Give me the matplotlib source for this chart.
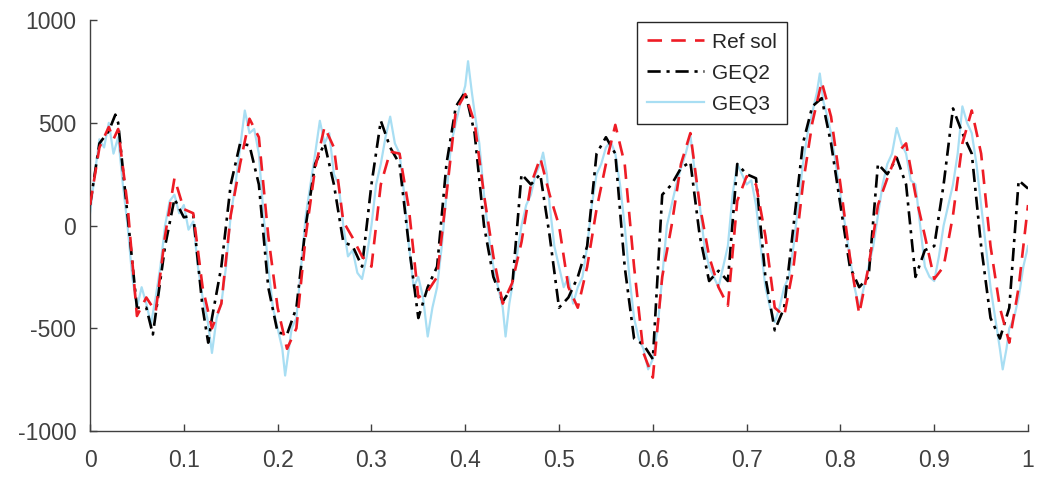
import matplotlib
matplotlib.use("Agg")
import matplotlib.pyplot as plt

plt.rcParams['font.family'] = ['Liberation Sans', 'DejaVu Sans']

ref_x = [0.00,0.01,0.02,0.025,0.03,0.04,0.05,0.06,0.07,0.08,0.09,0.10,0.11,0.12,0.13,0.14,0.15,0.16,0.17,0.18,0.19,
         0.20,0.21,0.22,0.23,0.24,0.25,0.26,0.27,0.28,0.29,0.30,0.31,0.32,0.33,0.34,0.35,0.36,0.37,0.38,0.39,
         0.40,0.41,0.42,0.43,0.44,0.45,0.46,0.47,0.48,0.49,0.50,0.51,0.52,0.53,0.54,0.55,0.56,0.57,0.58,0.59,
         0.60,0.61,0.62,0.63,0.64,0.65,0.66,0.67,0.68,0.69,0.70,0.71,0.72,0.73,0.74,0.75,0.76,0.77,0.78,0.79,
         0.80,0.81,0.82,0.83,0.84,0.85,0.86,0.87,0.88,0.89,0.90,0.91,0.92,0.93,0.94,0.95,0.96,0.97,0.98,0.99,1.00]
ref_y = [100,380,480,420,470,100,-440,-350,-420,-50,230,80,60,-300,-500,-380,50,300,520,430,-50,
         -400,-600,-500,-50,280,480,380,20,-60,-150,-200,200,360,350,80,-350,-320,-250,150,560,
         640,500,150,-150,-380,-280,-80,200,330,150,0,-300,-400,-200,80,300,490,300,-200,-620,
         -740,-250,0,300,450,100,-150,-300,-390,120,240,200,-50,-400,-440,-200,200,500,700,530,
         200,-150,-430,-200,100,230,350,400,150,-50,-260,-200,50,400,560,350,-100,-400,-570,-300,100]

geq2_x = [0.00,0.01,0.02,0.027,0.03,0.04,0.05,0.06,0.067,0.08,0.09,0.10,0.11,0.12,0.126,0.13,0.14,0.15,0.16,0.17,0.18,0.19,
          0.20,0.21,0.22,0.23,0.24,0.25,0.26,0.27,0.28,0.29,0.30,0.31,0.32,0.33,0.34,0.35,0.36,0.37,0.38,0.39,
          0.40,0.41,0.42,0.43,0.44,0.45,0.46,0.47,0.48,0.49,0.50,0.51,0.52,0.53,0.54,0.55,0.56,0.57,0.58,0.59,
          0.60,0.61,0.62,0.63,0.64,0.65,0.66,0.67,0.68,0.69,0.70,0.71,0.72,0.73,0.74,0.75,0.76,0.77,0.78,0.79,
          0.80,0.81,0.82,0.83,0.84,0.85,0.86,0.87,0.88,0.89,0.90,0.91,0.92,0.93,0.94,0.95,0.96,0.97,0.98,0.99,1.00]
geq2_y = [100,400,460,540,500,50,-400,-400,-530,-100,130,40,50,-400,-570,-450,-200,200,400,390,200,-300,
          -520,-530,-400,0,300,400,200,-80,-100,-200,200,510,380,300,-100,-450,-300,-200,300,580,
          650,450,0,-250,-370,-300,250,200,250,-50,-400,-350,-250,-100,350,430,350,-200,-550,-580,
          -650,150,200,280,310,-50,-270,-220,-270,300,250,230,-250,-510,-400,0,400,580,620,400,
          100,-200,-300,-250,300,250,330,200,-250,-120,-100,200,570,450,350,-100,-450,-550,-400,220,180]

geq3_x = [0.000,0.005,0.010,0.015,0.020,0.025,0.030,0.035,0.040,0.045,0.050,0.055,0.060,0.065,0.070,0.075,0.080,0.085,0.090,0.095,
          0.100,0.105,0.110,0.115,0.120,0.125,0.130,0.135,0.140,0.145,0.150,0.155,0.160,0.165,0.170,0.175,0.180,0.185,0.190,0.195,
          0.200,0.205,0.208,0.212,0.215,0.220,0.225,0.230,0.235,0.240,0.245,0.250,0.255,0.260,0.265,0.270,0.275,0.280,0.285,0.290,0.295,
          0.300,0.305,0.310,0.315,0.320,0.325,0.330,0.335,0.340,0.345,0.350,0.355,0.360,0.365,0.370,0.375,0.380,0.385,0.390,0.395,
          0.400,0.403,0.407,0.410,0.415,0.420,0.425,0.430,0.435,0.440,0.443,0.447,0.450,0.455,0.460,0.465,0.470,0.475,0.480,0.483,0.487,0.490,0.495,
          0.500,0.505,0.510,0.515,0.520,0.525,0.530,0.535,0.540,0.545,0.550,0.555,0.560,0.565,0.570,0.575,0.580,0.585,0.590,0.595,
          0.600,0.605,0.610,0.615,0.620,0.625,0.630,0.635,0.640,0.645,0.650,0.655,0.660,0.665,0.670,0.675,0.680,0.685,0.690,0.695,
          0.700,0.705,0.710,0.715,0.720,0.725,0.730,0.735,0.740,0.745,0.750,0.755,0.760,0.765,0.770,0.775,0.778,0.782,0.785,0.790,0.795,
          0.800,0.805,0.810,0.815,0.820,0.825,0.830,0.835,0.840,0.845,0.850,0.855,0.860,0.865,0.870,0.875,0.880,0.885,0.890,0.895,
          0.900,0.905,0.910,0.915,0.920,0.925,0.930,0.935,0.940,0.945,0.950,0.955,0.960,0.965,0.970,0.973,0.977,0.980,0.985,0.990,0.995,1.000]
geq3_y = [60,250,420,380,500,350,430,200,0,-250,-400,-300,-380,-480,-350,-200,0,120,150,60,
          100,-20,20,-200,-350,-450,-620,-450,-380,-200,50,200,380,560,450,470,350,50,-200,-400,
          -500,-600,-730,-600,-500,-450,-200,50,200,350,510,400,450,250,200,0,-150,-120,-230,-260,-150,
          0,200,300,430,530,400,350,150,-100,-300,-250,-350,-540,-400,-300,-100,150,400,500,600,
          680,800,650,550,400,150,-50,-200,-300,-400,-540,-380,-300,-150,0,100,150,250,300,355,250,100,-100,
          -200,-300,-250,-380,-300,-250,-100,100,250,300,380,410,350,200,0,-250,-450,-550,-600,-700,
          -650,-500,-250,0,100,200,280,350,440,250,100,-100,-200,-250,-300,-200,-100,150,300,250,
          200,220,100,-100,-300,-400,-470,-400,-300,-250,-100,100,300,450,550,650,740,600,550,450,300,
          150,0,-150,-300,-400,-300,-200,-100,50,200,300,350,475,400,350,220,200,0,-200,-250,
          -270,-150,0,100,200,350,580,500,450,300,100,-100,-300,-450,-600,-700,-600,-500,-450,-350,-200,-100]

x_ticks = [0, 0.1, 0.2, 0.3, 0.4, 0.5, 0.6, 0.7, 0.8, 0.9, 1]
x_tick_labels = ['0', '0.1', '0.2', '0.3', '0.4', '0.5', '0.6', '0.7', '0.8', '0.9', '1']
y_ticks = [-1000, -500, 0, 500, 1000]
y_tick_labels = ['-1000', '-500', '0', '500', '1000']

fig = plt.figure(figsize=(10.42, 4.79), dpi=100)
ax = fig.add_axes([0.0864, 0.1002, 0.9002, 0.8578])

ax.plot(geq3_x, geq3_y, color='#a8def3', lw=1.6, label='GEQ3', zorder=2)
ax.plot(geq2_x, geq2_y, color='black', lw=1.9, dashes=(5, 2.2, 1.2, 2.2), label='GEQ2', zorder=3)
ax.plot(ref_x, ref_y, color='#ee1c25', lw=1.9, dashes=(5.5, 3.5), label='Ref sol', zorder=4)

ax.set_xlim(0, 1)
ax.set_ylim(-1000, 1000)
ax.set_xticks(x_ticks)
ax.set_xticklabels(x_tick_labels)
ax.set_yticks(y_ticks)
ax.set_yticklabels(y_tick_labels)
for s in ['top', 'right']:
    ax.spines[s].set_visible(False)
for s in ['left', 'bottom']:
    ax.spines[s].set_color('#404040')
    ax.spines[s].set_linewidth(1.0)
ax.tick_params(direction='in', length=5, width=1, colors='#404040', labelsize=16.5)
ax.tick_params(axis='x', pad=13)
ax.tick_params(axis='y', pad=10)

handles, labels = ax.get_legend_handles_labels()
order = [2, 1, 0]
leg = ax.legend([handles[i] for i in order], [labels[i] for i in order],
                loc='upper left', bbox_to_anchor=(0.583, 0.995), fontsize=15,
                frameon=True, fancybox=False, edgecolor='#262626', framealpha=1,
                handlelength=2.7, handletextpad=0.4, borderpad=0.5, labelspacing=0.58,
                borderaxespad=0)
leg.get_frame().set_linewidth(1.0)
for t in leg.get_texts():
    t.set_color('#262626')

fig.savefig('out.png', dpi=100)
